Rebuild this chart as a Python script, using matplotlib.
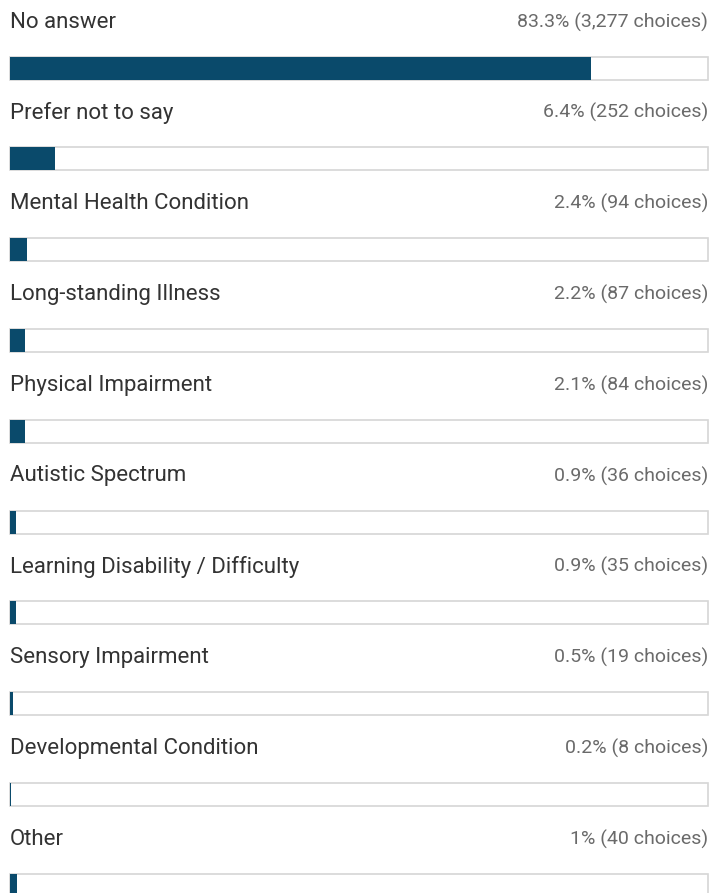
import matplotlib.pyplot as plt

# Survey answers
labels = ["No answer", "Prefer not to say", "Mental Health Condition",
          "Long-standing Illness", "Physical Impairment", "Autistic Spectrum",
          "Learning Disability / Difficulty", "Sensory Impairment",
          "Developmental Condition", "Other"]
percent = [83.3, 6.4, 2.4, 2.2, 2.1, 0.9, 0.9, 0.5, 0.2, 1.0]
pct_text = ["83.3%", "6.4%", "2.4%", "2.2%", "2.1%", "0.9%", "0.9%", "0.5%", "0.2%", "1%"]
choices = ["3,277", "252", "94", "87", "84", "36", "35", "19", "8", "40"]

plt.rcParams['font.family'] = ['Roboto', 'DejaVu Sans']

fig = plt.figure(figsize=(7.1, 8.93), dpi=100)
ax = fig.add_axes([0, 0, 1, 1])

# pixel-ish layout: track runs from x=10px to x=708px
px_per = 6.98
ax.set_xlim(-10 / px_per, 700 / px_per)
ax.set_ylim(893, 0)
ax.axis('off')

step = 90.8
first_bar = 68
bar_h = 23

ys = [first_bar + i * step for i in range(len(labels))]

# light track behind each bar
ax.barh(ys, [100] * len(ys), height=bar_h, color='white',
        edgecolor='#d6d6d6', linewidth=1.2)
ax.barh(ys, percent, height=bar_h, color='#0a4a6b', edgecolor='none')

for y, lab, p, c in zip(ys, labels, pct_text, choices):
    ax.text(0, y - 46, lab, fontsize=16, color='#333333', va='center', ha='left')
    ax.text(100, y - 46, f"{p} ({c} choices)", fontsize=14, color='#6a6a6a',
            va='center', ha='right')

fig.savefig('out.png', dpi=100)
